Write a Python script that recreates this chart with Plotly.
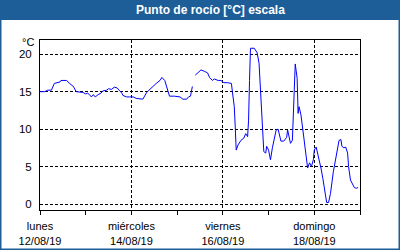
import plotly.graph_objects as go

times = [
    "2019-08-12 00:00", "2019-08-12 02:30", "2019-08-12 04:00", "2019-08-12 06:00", "2019-08-12 07:30",
    "2019-08-12 08:30", "2019-08-12 10:30", "2019-08-12 11:00", "2019-08-12 14:00", "2019-08-12 15:30",
    "2019-08-12 17:30", "2019-08-12 19:00", "2019-08-12 21:00", "2019-08-12 22:30", "2019-08-13 00:00",
    "2019-08-13 01:00", "2019-08-13 02:00", "2019-08-13 03:00", "2019-08-13 04:00", "2019-08-13 05:00",
    "2019-08-13 06:30", "2019-08-13 08:00", "2019-08-13 09:00", "2019-08-13 11:00", "2019-08-13 12:00",
    "2019-08-13 13:30", "2019-08-13 15:00", "2019-08-13 16:30", "2019-08-13 17:30", "2019-08-13 19:00",
    "2019-08-13 19:30", "2019-08-13 21:30", "2019-08-13 23:00", "2019-08-14 01:00", "2019-08-14 02:30",
    "2019-08-14 04:30", "2019-08-14 06:00", "2019-08-14 08:00", "2019-08-14 09:30", "2019-08-14 11:30",
    "2019-08-14 13:00", "2019-08-14 15:00", "2019-08-14 16:00", "2019-08-14 17:30", "2019-08-14 19:00",
    "2019-08-14 20:00", "2019-08-14 22:30", "2019-08-15 01:30", "2019-08-15 03:00", "2019-08-15 05:00",
    "2019-08-15 06:00", "2019-08-15 07:00", "2019-08-15 08:00", "2019-08-15 09:00", "2019-08-15 09:30",
    "2019-08-15 11:30", "2019-08-15 12:30", "2019-08-15 14:30", "2019-08-15 16:00", "2019-08-15 17:00",
    "2019-08-15 18:30", "2019-08-15 19:30", "2019-08-15 21:30", "2019-08-15 23:00", "2019-08-16 00:30",
    "2019-08-16 02:30", "2019-08-16 04:30", "2019-08-16 05:00", "2019-08-16 06:00", "2019-08-16 06:30",
    "2019-08-16 07:00", "2019-08-16 08:00", "2019-08-16 09:00", "2019-08-16 09:30", "2019-08-16 11:00",
    "2019-08-16 12:00", "2019-08-16 13:00", "2019-08-16 13:30", "2019-08-16 14:00", "2019-08-16 14:30",
    "2019-08-16 16:30", "2019-08-16 18:00", "2019-08-16 19:00", "2019-08-16 19:30", "2019-08-16 20:00",
    "2019-08-16 21:00", "2019-08-16 21:30", "2019-08-16 22:30", "2019-08-16 23:00", "2019-08-17 00:00",
    "2019-08-17 01:00", "2019-08-17 02:00", "2019-08-17 03:00", "2019-08-17 04:00", "2019-08-17 05:00",
    "2019-08-17 06:00", "2019-08-17 06:30", "2019-08-17 08:00", "2019-08-17 09:30", "2019-08-17 10:00",
    "2019-08-17 11:00", "2019-08-17 11:30", "2019-08-17 12:30", "2019-08-17 13:00", "2019-08-17 13:30",
    "2019-08-17 14:00", "2019-08-17 15:00", "2019-08-17 15:30", "2019-08-17 16:00", "2019-08-17 16:30",
    "2019-08-17 17:00", "2019-08-17 18:00", "2019-08-17 19:00", "2019-08-17 20:00", "2019-08-17 20:30",
    "2019-08-17 21:30", "2019-08-17 22:30", "2019-08-17 23:30", "2019-08-18 00:00", "2019-08-18 01:00",
    "2019-08-18 02:00", "2019-08-18 03:00", "2019-08-18 03:30", "2019-08-18 04:30", "2019-08-18 05:30",
    "2019-08-18 06:30", "2019-08-18 07:30", "2019-08-18 08:30", "2019-08-18 10:00", "2019-08-18 11:00",
    "2019-08-18 12:00", "2019-08-18 13:00", "2019-08-18 14:00", "2019-08-18 14:30", "2019-08-18 15:30",
    "2019-08-18 16:30", "2019-08-18 17:30", "2019-08-18 18:00", "2019-08-18 19:00", "2019-08-18 20:00",
    "2019-08-18 21:00", "2019-08-18 22:00", "2019-08-18 23:00",
]

dew_point = [
    15.0, 15.0, 15.2, 15.2, 16.1,
    16.2, 16.3, 16.5, 16.5, 16.1,
    15.7, 15.0, 15.0, 14.9, 14.7,
    14.8, 14.6, 14.3, 14.6, 14.3,
    14.6, 14.8, 15.1, 15.2, 15.4,
    15.3, 15.6, 15.5, 15.2, 14.8,
    14.5, 14.3, 14.3, 14.3, 14.1,
    14.0, 14.0, 14.9, 15.3, 15.7,
    16.1, 16.5, 16.9, 16.5, 15.4,
    14.4, 14.4, 14.3, 14.0, 14.0,
    14.3, 14.4, 15.7, None, 17.2,
    17.6, 17.9, 17.7, 17.5, 16.9,
    16.5, 16.7, 16.5, 16.5, 16.2,
    16.2, 16.1, 15.0, 13.0, 10.3,
    7.2, 7.9, 8.3, 8.5, 8.8,
    9.4, 9.0, 11.2, 16.5, 20.8,
    20.8, 20.2, 18.8, 16.1, 13.0,
    9.7, 7.0, 6.8, 7.7, 7.2,
    5.9, 7.5, 8.6, 9.9, 10.0,
    8.7, 8.4, 8.4, 8.9, 9.9,
    8.8, 8.1, 8.5, 12.8, 16.8,
    18.7, 16.8, 12.1, 13.0, 12.6,
    11.9, 9.9, 8.1, 5.9, 4.8,
    5.5, 5.0, 5.9, 7.2, 7.6,
    6.6, 5.5, 4.8, 3.4, 1.7,
    0.2, 0.2, 1.4, 4.3, 5.9,
    7.2, 8.5, 8.6, 7.7, 7.5,
    7.6, 6.8, 5.0, 3.2, 2.6,
    2.2, 2.1, 2.2,
]

tick_dates = ["2019-08-12", "2019-08-14", "2019-08-16", "2019-08-18"]
tick_labels = ["lunes<br>12/08/19", "miércoles<br>14/08/19", "viernes<br>16/08/19", "domingo<br>18/08/19"]
y_ticks = [0, 5, 10, 15, 20]

title_text = "Punto de rocío [°C] escala"
unit_text = "°C"

FONT = "Liberation Sans, DejaVu Sans, sans-serif"
BLUE_BAR = "#1e5e98"

fig = go.Figure()
fig.add_trace(go.Scatter(
    x=times, y=dew_point, mode="lines",
    line=dict(color="#0000ff", width=1),
    connectgaps=False, hoverinfo="skip", showlegend=False,
))

W, H = 400, 250
L, R, T, B = 40, 40, 40, 40
pw, ph = W - L - R, H - T - B


def px_x(x):
    return (x - L) / pw


def px_y(y):
    return (H - B - y) / ph


fig.update_layout(
    width=W, height=H,
    margin=dict(l=L, r=R, t=T, b=B, pad=0, autoexpand=False),
    paper_bgcolor="#ffffff",
    plot_bgcolor="#ffffff",
    font=dict(family=FONT, size=11, color="#000000"),
    xaxis=dict(
        type="date", automargin=False,
        range=["2019-08-12 00:00", "2019-08-19 00:00"],
        tickvals=tick_dates, ticktext=tick_labels,
        showgrid=True, gridcolor="#000000", gridwidth=1, griddash="3px,2px",
        showline=True, linecolor="#000000", linewidth=1, mirror=True,
        ticks="outside", ticklen=4, tickcolor="#000000", tickwidth=1,
        minor=dict(dtick=86400000, tick0="2019-08-12", ticks="outside", ticklen=4,
                   tickcolor="#000000", showgrid=False),
        zeroline=False, fixedrange=True,
        ticklabelstandoff=2,
        tickfont=dict(family=FONT, size=11, color="#000000"),
    ),
    yaxis=dict(
        automargin=False,
        range=[-0.8, 21.9],
        tickvals=y_ticks,
        showgrid=True, gridcolor="#000000", gridwidth=1, griddash="3px,2px",
        showline=True, linecolor="#000000", linewidth=1, mirror=True,
        ticks="", zeroline=False, fixedrange=True,
        tickfont=dict(family=FONT, size=11.5, color="#000000"),
        ticklabelstandoff=5,
    ),
    shapes=[
        dict(type="rect", xref="paper", yref="paper",
             x0=px_x(0), x1=px_x(W), y0=px_y(20), y1=px_y(0),
             fillcolor=BLUE_BAR, line=dict(width=0), layer="above"),
        dict(type="rect", xref="paper", yref="paper",
             x0=px_x(0), x1=px_x(W), y0=px_y(H), y1=px_y(0),
             fillcolor="rgba(0,0,0,0)", line=dict(color=BLUE_BAR, width=3), layer="above"),
    ],
    annotations=[
        dict(text="<b>" + title_text + "</b>", xref="paper", yref="paper",
             x=px_x(210), y=px_y(10), xanchor="center", yanchor="middle",
             showarrow=False, font=dict(family=FONT, size=12, color="#ffffff")),
        dict(text=unit_text, xref="paper", yref="paper",
             x=px_x(36), y=px_y(42.5), xanchor="right", yanchor="middle",
             showarrow=False, font=dict(family=FONT, size=11, color="#000000")),
    ],
)

fig.write_html("out.html")
